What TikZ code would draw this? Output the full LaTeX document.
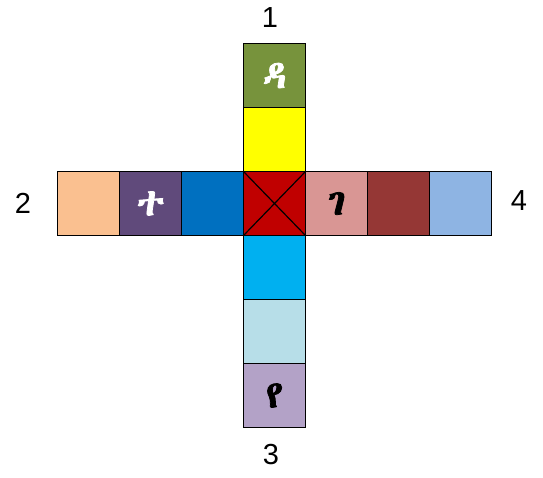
\documentclass[tikz,border=0pt]{standalone}
\usepackage{fontspec}
\setmainfont{Liberation Sans}
\IfFontExistsTF{Abyssinica SIL}{\newfontfamily\ethfont[FakeBold=2]{Abyssinica SIL}}{%
  \IfFontExistsTF{FreeSerif}{\newfontfamily\ethfont[FakeBold=2]{FreeSerif}}{\newfontfamily\ethfont[FakeBold=2]{DejaVu Sans}}}
\usepackage{tikz}
\usetikzlibrary{positioning}
\definecolor{olivegreen}{HTML}{77933C}
\definecolor{cellyellow}{HTML}{FFFF00}
\definecolor{cellred}{HTML}{C00000}
\definecolor{peach}{HTML}{FAC090}
\definecolor{plum}{HTML}{604A7B}
\definecolor{deepblue}{HTML}{0070C0}
\definecolor{rosepink}{HTML}{D99694}
\definecolor{brickred}{HTML}{953735}
\definecolor{skyblue}{HTML}{8EB4E3}
\definecolor{cyanblue}{HTML}{00B0F0}
\definecolor{paleblue}{HTML}{B7DEE8}
\definecolor{lavender}{HTML}{B3A2C7}
\tikzstyle{cell} = [rectangle, draw=black, line width=1.2pt, minimum width=62pt, minimum height=64pt, inner sep=0pt, outer sep=0pt, font=\ethfont\fontsize{38}{38}\selectfont]
\tikzstyle{armlabel} = [font=\fontsize{29}{29}\selectfont]

\begin{document}
\begin{tikzpicture}[x=1pt, y=-1pt, node distance=0pt]
    \useasboundingbox (0,0) rectangle (543,477);
    % centre cell with the cross
    \node (mid) [cell, fill=cellred] at (274.5,203.5) {};
    \draw [line width=1.2pt] (mid.north west) -- (mid.south east);
    \draw [line width=1.2pt] (mid.north east) -- (mid.south west);
    % arm 1 (up)
    \node (up1) [cell, fill=cellyellow, above=of mid] {};
    \node (up2) [cell, fill=olivegreen, text=white, above=of up1] {ዳ};
    % arm 2 (left)
    \node (lt1) [cell, fill=deepblue, left=of mid] {};
    \node (lt2) [cell, fill=plum, text=white, left=of lt1] {ተ};
    \node (lt3) [cell, fill=peach, left=of lt2] {};
    % arm 4 (right)
    \node (rt1) [cell, fill=rosepink, right=of mid] {ገ};
    \node (rt2) [cell, fill=brickred, right=of rt1] {};
    \node (rt3) [cell, fill=skyblue, right=of rt2] {};
    % arm 3 (down)
    \node (dn1) [cell, fill=cyanblue, below=of mid] {};
    \node (dn2) [cell, fill=paleblue, below=of dn1] {};
    \node (dn3) [cell, fill=lavender, below=of dn2] {የ};
    % arm numbers
    \node (n1) [armlabel] at (270,17.5) {1};
    \node (n2) [armlabel] at (23,203) {2};
    \node (n3) [armlabel] at (271,455) {3};
    \node (n4) [armlabel] at (519,201) {4};
\end{tikzpicture}
\end{document}
